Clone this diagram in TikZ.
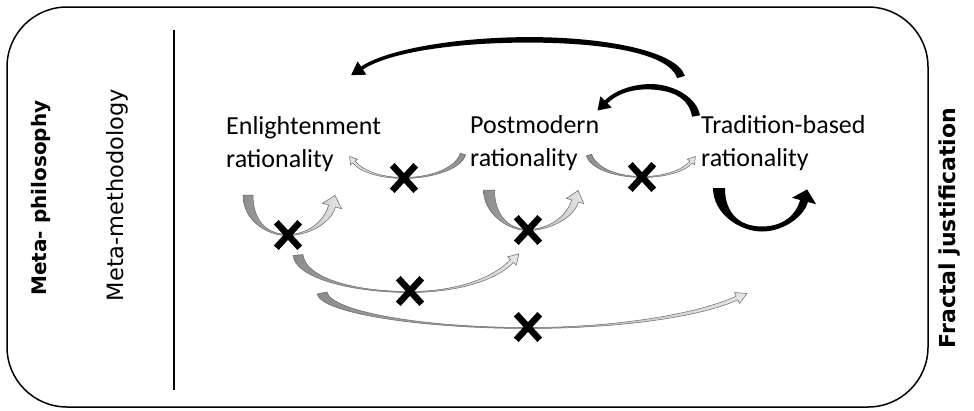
\documentclass[tikz,border=0pt]{standalone}
\usepackage{fontspec}
\setmainfont{Carlito}
\newfontfamily\labelsans{DejaVu Sans}
\usetikzlibrary{calc,shapes.misc}

% Seven control coordinates of a two-piece curved arrow:
% tail T, controls C1 C2, middle M, controls C3 C4, head base H.
\newcommand\arrowpath[8]{%
  \coordinate (#1-T)  at (#2);
  \coordinate (#1-C1) at (#3);
  \coordinate (#1-C2) at (#4);
  \coordinate (#1-M)  at (#5);
  \coordinate (#1-C3) at (#6);
  \coordinate (#1-C4) at (#7);
  \coordinate (#1-H)  at (#8);
}

% Tapered curved arrow along such a path.
% #1 style, #2 name, #3 tail width, #4 middle width,
% #5 shaft width at the head, #6 half width of the head, #7 head length
\newcommand\taper[7][]{%
  \path
    ($(#2-T)!#3*0.5pt!90:(#2-C1)$)   coordinate (#2-TL)
    ($(#2-T)!#3*0.5pt!-90:(#2-C1)$)  coordinate (#2-TR)
    ($(#2-C1)!#3*0.5pt!-90:(#2-T)$)  coordinate (#2-C1L)
    ($(#2-C1)!#3*0.5pt!90:(#2-T)$)   coordinate (#2-C1R)
    ($(#2-C2)!#4*0.5pt!90:(#2-M)$)   coordinate (#2-C2L)
    ($(#2-C2)!#4*0.5pt!-90:(#2-M)$)  coordinate (#2-C2R)
    ($(#2-M)!#4*0.5pt!-90:(#2-C2)$)  coordinate (#2-ML)
    ($(#2-M)!#4*0.5pt!90:(#2-C2)$)   coordinate (#2-MR)
    ($(#2-C3)!#4*0.5pt!-90:(#2-M)$)  coordinate (#2-C3L)
    ($(#2-C3)!#4*0.5pt!90:(#2-M)$)   coordinate (#2-C3R)
    ($(#2-C4)!#5*0.5pt!90:(#2-H)$)   coordinate (#2-C4L)
    ($(#2-C4)!#5*0.5pt!-90:(#2-H)$)  coordinate (#2-C4R)
    ($(#2-H)!#5*0.5pt!-90:(#2-C4)$)  coordinate (#2-HL)
    ($(#2-H)!#5*0.5pt!90:(#2-C4)$)   coordinate (#2-HR)
    ($(#2-H)!#6pt!-90:(#2-C4)$)      coordinate (#2-BL)
    ($(#2-H)!#6pt!90:(#2-C4)$)       coordinate (#2-BR)
    ($(#2-H)!-#7pt!(#2-C4)$)         coordinate (#2-tip);
  \path[#1] (#2-TL) .. controls (#2-C1L) and (#2-C2L) .. (#2-ML)
     .. controls (#2-C3L) and (#2-C4L) .. (#2-HL) -- (#2-BL) -- (#2-tip)
     -- (#2-BR) -- (#2-HR) .. controls (#2-C4R) and (#2-C3R) .. (#2-MR)
     .. controls (#2-C2R) and (#2-C1R) .. (#2-TR) -- cycle;
}

\begin{document}
\begin{tikzpicture}[x=1pt,y=-1pt,
  frame/.style={draw=black, line width=1.5pt, rounded corners=60pt},
  divider/.style={draw=black, line width=1.5pt},
  rat/.style={font=\fontsize{26}{33}\selectfont, align=left, inner sep=0pt, anchor=base west},
  sidelabel/.style={rotate=90, inner sep=0pt},
  nogo/.style={cross out, draw=black, line width=6.5pt, minimum width=17pt,
               minimum height=19pt, inner sep=0pt},
  blackarrow/.style={fill=black},
  grayR/.style={draw=black!60, line width=0.5pt, left color=black!45, right color=black!10},
  grayL/.style={draw=black!60, line width=0.5pt, left color=black!10, right color=black!45},
]
\fill[white] (0,0) rectangle (974,410);
\useasboundingbox (0,0) rectangle (974,410);

% outer frame and divider
\draw[frame] (7,7) rectangle (928,407);
\draw[divider] (174,30) -- (174,390);

% side labels
\node[sidelabel, font=\labelsans\bfseries\fontsize{20}{24}\selectfont] (mphil) at (41,198) {Meta- philosophy};
\node[sidelabel, font=\labelsans\fontsize{22.5}{26}\selectfont] (mmeth) at (117,195) {Meta-methodology};
\node[sidelabel, font=\labelsans\bfseries\fontsize{22}{26}\selectfont] (fract) at (950,228) {Fractal justification};

% the three rationalities (anchored on the baseline of the second line)
\node[rat] (enl) at (226,167) {Enlightenment\\rationality};
\node[rat] (pom) at (470,166) {Postmodern\\rationality};
\node[rat] (tra) at (701,166) {Tradition-based\\rationality};

% black arrows from tradition-based rationality
\arrowpath{big}{681,77}{673,52.5}{607.75,40.75}{537.25,39.9}{466.75,39}{391,49}{362,68}
\taper[blackarrow]{big}{8}{5.5}{3.5}{8}{13}
\arrowpath{small}{696,116}{693,99}{676.5,89.5}{657.75,87.25}{639,85}{618,90}{606,102}
\taper[blackarrow]{small}{8}{5.5}{4}{8}{12}
\arrowpath{self}{719,188}{719,214}{740,229}{762,229}{783,229}{800,216}{804,201}
\taper[blackarrow]{self}{12}{5}{8}{12.5}{12}

% grey arrows between rationalities
\arrowpath{pe}{463,154}{458,170}{428,178}{404,178}{382,178}{362,172}{354,162}
\taper[grayL]{pe}{5.5}{1}{3}{4.5}{7}
\arrowpath{pt}{589,155}{594,170}{620,177}{642,177}{664,177}{684,171}{691,162}
\taper[grayR]{pt}{5.5}{1}{3}{4.5}{7}
\arrowpath{ee}{248,195}{248,220}{266,235}{288,235}{306,235}{327,224}{332,206}
\taper[grayR]{ee}{10}{1.2}{7}{10}{11}
\arrowpath{pp}{489,190}{489,213}{507,230}{528,230}{548,230}{570,218}{575,201}
\taper[grayR]{pp}{11}{1.2}{7}{9}{11}
\arrowpath{ep}{298,255}{300,277}{350,292}{410,292}{455,292}{494,280}{512,261}
\taper[grayR]{ep}{10}{1}{4}{6}{10}
\arrowpath{et}{322,293}{326,312}{420,328}{528,328}{620,328}{700,315}{737,298}
\taper[grayR]{et}{10}{1}{4}{6}{11}

% blocked links
\node[nogo] (x1) at (404,178) {};
\node[nogo] (x2) at (642,177) {};
\node[nogo] (x3) at (288,235) {};
\node[nogo] (x4) at (528,230) {};
\node[nogo] (x5) at (410,291) {};
\node[nogo] (x6) at (528,327) {};
\end{tikzpicture}
\end{document}
